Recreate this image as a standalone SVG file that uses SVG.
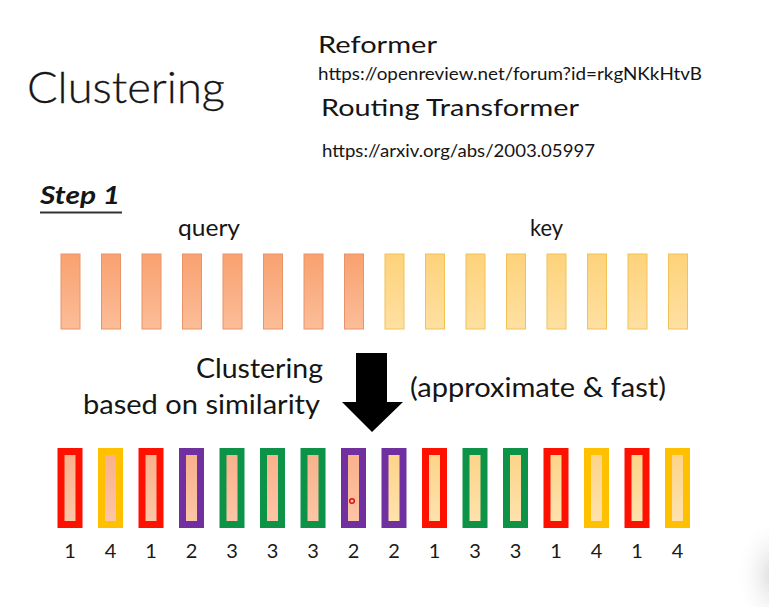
<svg xmlns="http://www.w3.org/2000/svg" width="769" height="607" viewBox="0 0 769 607">
<defs>
<style>
text{font-family:"Lato","Open Sans","Liberation Sans",sans-serif;fill:#151515}
.title{font-size:44px;font-weight:300;stroke:#151515;stroke-width:0.3}
.h2{font-size:24px}
.url{font-size:18px}
.lbl{font-size:23px}
.big{font-size:26px}
.num{font-size:20px;text-anchor:middle;fill:#1a1a1a}
.q{fill:url(#gq);stroke:#e8946a;stroke-width:1}
.k{fill:url(#gk);stroke:#f2c256;stroke-width:1}
.c1{stroke:#fe1100}
.c2{stroke:#7030a0}
.c3{stroke:#0c9347}
.c4{stroke:#ffc000}
.bq{fill:url(#iq);stroke-width:7}
.bk{fill:url(#ik);stroke-width:7}
</style>
<linearGradient id="gq" x1="0" y1="0" x2="0" y2="1"><stop offset="0" stop-color="#f9a170"/><stop offset="1" stop-color="#fbbd98"/></linearGradient>
<linearGradient id="gk" x1="0" y1="0" x2="0" y2="1"><stop offset="0" stop-color="#fdd27a"/><stop offset="1" stop-color="#ffe0a2"/></linearGradient>
<linearGradient id="iq" x1="0" y1="0" x2="0" y2="1"><stop offset="0" stop-color="#f9b08a"/><stop offset="1" stop-color="#fcc6a8"/></linearGradient>
<linearGradient id="ik" x1="0" y1="0" x2="0" y2="1"><stop offset="0" stop-color="#fdd488"/><stop offset="1" stop-color="#fee2ae"/></linearGradient>
<radialGradient id="blur" cx="0.5" cy="0.5" r="0.5"><stop offset="0" stop-color="#c8c8c8" stop-opacity="0.7"/><stop offset="1" stop-color="#ffffff" stop-opacity="0"/></radialGradient>
</defs>
<rect width="769" height="607" fill="#ffffff"/>
<ellipse cx="775" cy="575" rx="40" ry="60" fill="url(#blur)"/>

<g id="title"><text class="title" x="27" y="103" textLength="198" lengthAdjust="spacingAndGlyphs">Clustering</text></g>
<g id="refs">
<text class="h2" x="318" y="53" textLength="119" lengthAdjust="spacingAndGlyphs">Reformer</text>
<text class="url" x="318" y="80" textLength="384" lengthAdjust="spacingAndGlyphs">https://openreview.net/forum?id=rkgNKkHtvB</text>
<text class="h2" x="321" y="116" textLength="258" lengthAdjust="spacingAndGlyphs">Routing Transformer</text>
<text class="url" x="322" y="157" textLength="273" lengthAdjust="spacingAndGlyphs">https://arxiv.org/abs/2003.05997</text>
</g>
<g id="step1">
<text x="40" y="204" font-size="24" font-weight="bold" font-style="italic" textLength="80" lengthAdjust="spacingAndGlyphs">Step 1</text>
<rect x="40" y="211.5" width="82" height="2" fill="#333"/>
</g>
<g id="labels">
<text class="lbl" x="178" y="236" textLength="62" lengthAdjust="spacingAndGlyphs">query</text>
<text class="lbl" x="530" y="236" textLength="33" lengthAdjust="spacingAndGlyphs">key</text>
</g>

<g id="query-vectors">
<rect class="q" x="61" y="254" width="19" height="75"/>
<rect class="q" x="101.5" y="254" width="19" height="75"/>
<rect class="q" x="142" y="254" width="19" height="75"/>
<rect class="q" x="182.5" y="254" width="19" height="75"/>
<rect class="q" x="223" y="254" width="19" height="75"/>
<rect class="q" x="263.5" y="254" width="19" height="75"/>
<rect class="q" x="304" y="254" width="19" height="75"/>
<rect class="q" x="344.5" y="254" width="19" height="75"/>
</g>
<g id="key-vectors">
<rect class="k" x="385" y="254" width="19" height="75"/>
<rect class="k" x="425.5" y="254" width="19" height="75"/>
<rect class="k" x="466" y="254" width="19" height="75"/>
<rect class="k" x="506.5" y="254" width="19" height="75"/>
<rect class="k" x="547" y="254" width="19" height="75"/>
<rect class="k" x="587.5" y="254" width="19" height="75"/>
<rect class="k" x="628" y="254" width="19" height="75"/>
<rect class="k" x="668.5" y="254" width="19" height="75"/>
</g>

<g id="clustering-label">
<text class="big" x="323" y="378" text-anchor="end" textLength="127" lengthAdjust="spacingAndGlyphs">Clustering</text>
<text class="big" x="320" y="414" text-anchor="end" textLength="237" lengthAdjust="spacingAndGlyphs">based on similarity</text>
<text class="big" x="410" y="397" textLength="256" lengthAdjust="spacingAndGlyphs">(approximate &amp; fast)</text>
</g>

<g id="connectors">
<polygon points="356,353 387,353 387,402 403,402 372,432 342,402 356,402" fill="#000"/>
</g>

<g id="clustered-vectors">
<rect class="bq c1" x="61" y="451.5" width="18" height="73"/>
<rect class="bq c4" x="101.5" y="451.5" width="18" height="73"/>
<rect class="bq c1" x="142" y="451.5" width="18" height="73"/>
<rect class="bq c2" x="182.5" y="451.5" width="18" height="73"/>
<rect class="bq c3" x="223" y="451.5" width="18" height="73"/>
<rect class="bq c3" x="263.5" y="451.5" width="18" height="73"/>
<rect class="bq c3" x="304" y="451.5" width="18" height="73"/>
<rect class="bq c2" x="344.5" y="451.5" width="18" height="73"/>
<rect class="bk c2" x="385" y="451.5" width="18" height="73"/>
<rect class="bk c1" x="425.5" y="451.5" width="18" height="73"/>
<rect class="bk c3" x="466" y="451.5" width="18" height="73"/>
<rect class="bk c3" x="506.5" y="451.5" width="18" height="73"/>
<rect class="bk c1" x="547" y="451.5" width="18" height="73"/>
<rect class="bk c4" x="587.5" y="451.5" width="18" height="73"/>
<rect class="bk c1" x="628" y="451.5" width="18" height="73"/>
<rect class="bk c4" x="668.5" y="451.5" width="18" height="73"/>
<circle cx="352" cy="501" r="2.3" fill="none" stroke="#e01010" stroke-width="1.5"/>
</g>

<g id="cluster-ids">
<text class="num" x="70" y="557.5">1</text>
<text class="num" x="110.5" y="557.5">4</text>
<text class="num" x="151" y="557.5">1</text>
<text class="num" x="191.5" y="557.5">2</text>
<text class="num" x="232" y="557.5">3</text>
<text class="num" x="272.5" y="557.5">3</text>
<text class="num" x="313" y="557.5">3</text>
<text class="num" x="353.5" y="557.5">2</text>
<text class="num" x="394" y="557.5">2</text>
<text class="num" x="434.5" y="557.5">1</text>
<text class="num" x="475" y="557.5">3</text>
<text class="num" x="515.5" y="557.5">3</text>
<text class="num" x="556" y="557.5">1</text>
<text class="num" x="596.5" y="557.5">4</text>
<text class="num" x="637" y="557.5">1</text>
<text class="num" x="677.5" y="557.5">4</text>
</g>
</svg>
